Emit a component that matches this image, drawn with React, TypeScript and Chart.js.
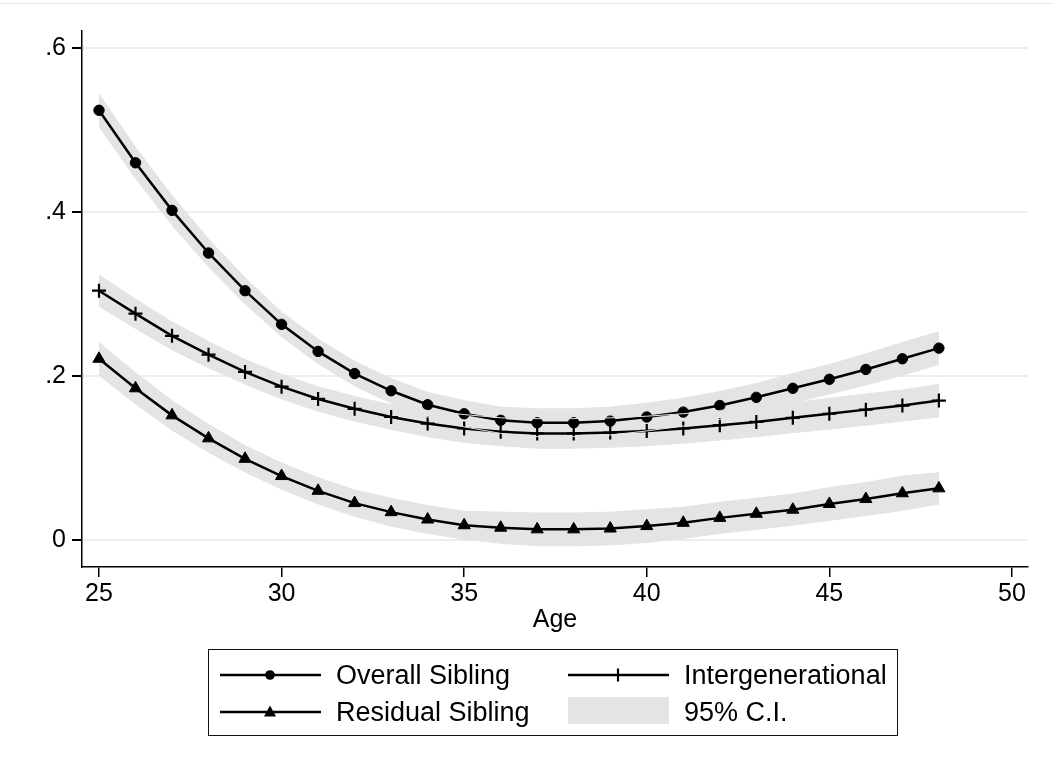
import React, { useEffect, useRef } from 'react';
import { Chart, registerables } from 'chart.js';

Chart.register(...registerables);

const ages = [25, 26, 27, 28, 29, 30, 31, 32, 33, 34, 35, 36, 37, 38, 39, 40, 41, 42, 43, 44, 45, 46, 47, 48];

const overallSibling = [0.524, 0.460, 0.402, 0.350, 0.304, 0.263, 0.230, 0.203, 0.182, 0.165, 0.154, 0.146, 0.143, 0.143, 0.145, 0.150, 0.156, 0.164, 0.174, 0.185, 0.196, 0.208, 0.221, 0.234];
const overallLo = [0.504, 0.441, 0.384, 0.333, 0.288, 0.248, 0.215, 0.188, 0.167, 0.150, 0.138, 0.130, 0.126, 0.126, 0.128, 0.133, 0.139, 0.147, 0.157, 0.167, 0.178, 0.189, 0.201, 0.214];
const overallHi = [0.544, 0.479, 0.420, 0.367, 0.320, 0.278, 0.245, 0.218, 0.197, 0.180, 0.170, 0.162, 0.160, 0.160, 0.162, 0.167, 0.173, 0.181, 0.191, 0.203, 0.214, 0.227, 0.241, 0.254];

const intergenerational = [0.304, 0.276, 0.249, 0.226, 0.205, 0.187, 0.172, 0.160, 0.150, 0.142, 0.136, 0.132, 0.130, 0.130, 0.131, 0.133, 0.136, 0.140, 0.144, 0.149, 0.154, 0.159, 0.164, 0.170];
const interLo = [0.285, 0.258, 0.232, 0.210, 0.190, 0.172, 0.157, 0.145, 0.135, 0.126, 0.119, 0.115, 0.112, 0.112, 0.113, 0.115, 0.118, 0.122, 0.126, 0.131, 0.135, 0.140, 0.145, 0.150];
const interHi = [0.323, 0.294, 0.266, 0.242, 0.220, 0.202, 0.187, 0.175, 0.165, 0.158, 0.153, 0.149, 0.148, 0.148, 0.149, 0.151, 0.154, 0.158, 0.162, 0.167, 0.173, 0.178, 0.183, 0.190];

const residualSibling = [0.221, 0.185, 0.152, 0.124, 0.099, 0.078, 0.060, 0.045, 0.034, 0.025, 0.018, 0.015, 0.013, 0.013, 0.014, 0.017, 0.021, 0.027, 0.032, 0.037, 0.044, 0.050, 0.057, 0.063];
const residualLo = [0.201, 0.166, 0.134, 0.107, 0.083, 0.062, 0.044, 0.029, 0.017, 0.008, 0.001, -0.004, -0.007, -0.007, -0.006, -0.003, 0.002, 0.008, 0.013, 0.018, 0.024, 0.030, 0.036, 0.044];
const residualHi = [0.241, 0.204, 0.170, 0.141, 0.115, 0.094, 0.076, 0.061, 0.051, 0.042, 0.035, 0.034, 0.033, 0.033, 0.034, 0.037, 0.040, 0.046, 0.051, 0.056, 0.064, 0.070, 0.078, 0.082];

const xTicks = [25, 30, 35, 40, 45, 50];
const yTicks = [0, 0.2, 0.4, 0.6];
const yTickLabels = ['0', '.2', '.4', '.6'];
const xTitle = 'Age';
const legendLabels = ['Overall Sibling', 'Intergenerational', 'Residual Sibling', '95% C.I.'];

const FONT = "'Liberation Sans', Arial, Helvetica, sans-serif";
const BAND = '#e4e4e4';

const pts = (arr: number[]) => ages.map((a, i) => ({ x: a, y: arr[i] }));

function band(hi: number[], lo: number[]) {
  return [
    {
      data: pts(hi),
      borderColor: BAND,
      borderWidth: 1,
      backgroundColor: BAND,
      pointRadius: 0,
      fill: '+1',
    },
    {
      data: pts(lo),
      borderColor: BAND,
      borderWidth: 1,
      backgroundColor: BAND,
      pointRadius: 0,
      fill: false,
    },
  ];
}

function line(arr: number[], style: string, radius: number, pbw: number) {
  return {
    data: pts(arr),
    borderColor: '#000',
    borderWidth: 2.5,
    backgroundColor: '#000',
    pointStyle: style,
    pointRadius: radius,
    pointBackgroundColor: '#000',
    pointBorderColor: '#000',
    pointBorderWidth: pbw,
    fill: false,
    tension: 0,
  };
}

export default function App() {
  const ref = useRef<HTMLCanvasElement | null>(null);

  useEffect(() => {
    document.body.style.margin = '0';
    const ctx = ref.current;
    if (!ctx) return;
    const chart = new Chart(ctx, {
      type: 'line',
      data: {
        datasets: [
          ...band(overallHi, overallLo),
          ...band(interHi, interLo),
          ...band(residualHi, residualLo),
          line(overallSibling, 'circle', 5.2, 1),
          line(intergenerational, 'cross', 7, 2.2),
          line(residualSibling, 'triangle', 7, 1),
        ] as any,
      },
      options: {
        animation: false,
        responsive: false,
        devicePixelRatio: 1,
        layout: { padding: { left: 0, top: 31, right: 25, bottom: 134 } },
        plugins: {
          legend: { display: false },
          tooltip: { enabled: false },
          filler: { drawTime: 'beforeDatasetsDraw', propagate: false },
        } as any,
        scales: {
          x: {
            type: 'linear',
            min: 24.535,
            max: 50.44,
            afterBuildTicks: (s: any) => {
              s.ticks = xTicks.map((v) => ({ value: v }));
            },
            afterFit: (s: any) => {
              s.height = 68;
            },
            grid: { drawOnChartArea: false, drawTicks: true, tickLength: 10, color: '#000', lineWidth: 1.5 },
            border: { display: true, color: '#000', width: 1.5 },
            ticks: {
              font: { family: FONT, size: 25 },
              color: '#000',
              padding: 2,
              maxRotation: 0,
              autoSkip: false,
              callback: (v: any) => String(v),
            },
            title: {
              display: true,
              text: xTitle,
              font: { family: FONT, size: 25 },
              color: '#000',
              padding: { top: 0, bottom: 0 },
            },
          },
          y: {
            type: 'linear',
            min: -0.0329,
            max: 0.6207,
            afterBuildTicks: (s: any) => {
              s.ticks = yTicks.map((v) => ({ value: v }));
            },
            afterFit: (s: any) => {
              s.width = 82;
            },
            grid: { color: '#e6eff1', lineWidth: 2, tickColor: '#000', tickLength: 10, drawTicks: true },
            border: { display: true, color: '#000', width: 1.5 },
            ticks: {
              font: { family: FONT, size: 25 },
              color: '#000',
              padding: 6,
              autoSkip: false,
              callback: (v: any) => {
                const i = yTicks.findIndex((t) => Math.abs(t - Number(v)) < 1e-6);
                return i >= 0 ? yTickLabels[i] : '';
              },
            },
          },
        } as any,
      },
    });
    return () => chart.destroy();
  }, []);

  const textStyle = (left: number, cy: number): React.CSSProperties => ({
    position: 'absolute',
    left,
    top: cy - 16,
    height: 32,
    lineHeight: '32px',
    fontFamily: FONT,
    fontSize: 27,
    color: '#000',
    whiteSpace: 'nowrap',
  });

  const r1 = 675;
  const r2 = 712;

  return (
    <div style={{ position: 'relative', width: 1053, height: 769, background: '#fff', overflow: 'hidden' }}>
      <div style={{ position: 'absolute', left: 0, top: 3, width: 1053, height: 1, background: '#ececec' }} />
      <canvas ref={ref} width={1053} height={769} style={{ display: 'block', position: 'absolute', left: 0, top: 0 }} />
      <div
        style={{
          position: 'absolute',
          left: 208,
          top: 649,
          width: 690,
          height: 87,
          border: '1.5px solid #111',
          boxSizing: 'border-box',
        }}
      />
      <svg width={1053} height={769} style={{ position: 'absolute', left: 0, top: 0, pointerEvents: 'none' }}>
        <line x1={220} y1={r1} x2={321} y2={r1} stroke="#000" strokeWidth={2.4} />
        <circle cx={270} cy={r1} r={4.8} fill="#000" />
        <line x1={568} y1={r1} x2={669} y2={r1} stroke="#000" strokeWidth={2.4} />
        <line x1={618} y1={r1 - 6.5} x2={618} y2={r1 + 6.5} stroke="#000" strokeWidth={2.2} />
        <line x1={220} y1={r2} x2={321} y2={r2} stroke="#000" strokeWidth={2.4} />
        <polygon points={`${270 - 6},${r2 + 4.5} ${270 + 6},${r2 + 4.5} 270,${r2 - 6.5}`} fill="#000" />
        <rect x={568} y={697} width={101} height={27} fill={BAND} />
      </svg>
      <div style={textStyle(336, r1)}>{legendLabels[0]}</div>
      <div style={textStyle(684, r1)}>{legendLabels[1]}</div>
      <div style={textStyle(336, r2)}>{legendLabels[2]}</div>
      <div style={textStyle(684, r2)}>{legendLabels[3]}</div>
    </div>
  );
}
